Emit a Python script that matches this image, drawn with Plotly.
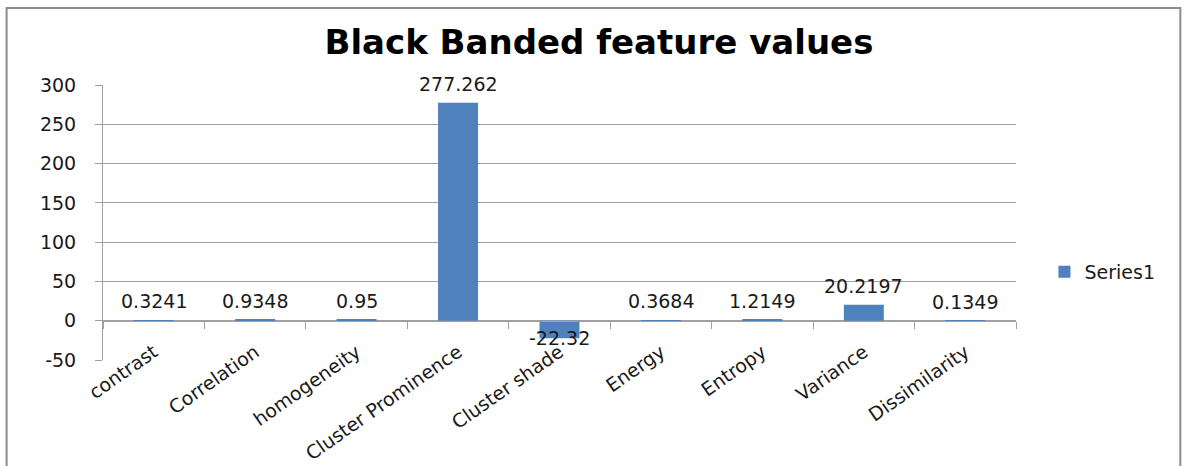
import plotly.graph_objects as go

categories = ["contrast", "Correlation", "homogeneity", "Cluster Prominence",
              "Cluster shade", "Energy", "Entropy", "Variance", "Dissimilarity"]
values = [0.3241, 0.9348, 0.95, 277.262, -22.32, 0.3684, 1.2149, 20.2197, 0.1349]
labels = ["0.3241", "0.9348", "0.95", "277.262", "-22.32", "0.3684", "1.2149", "20.2197", "0.1349"]
series_name = "Series1"
y_ticks = [-50, 0, 50, 100, 150, 200, 250, 300]
y_tick_text = ["-50", "0", "50", "100", "150", "200", "250", "300"]

W, H = 1184, 466
L, R, T, B = 102.5, 167.5, 85, 106
PW, PH = W - L - R, H - T - B
FONT = "DejaVu Sans"
TXT = "#1a1a1a"

def px_x(px):
    return (px - L) / PW

def px_y(py):
    return (H - B - py) / PH

ymin, ymax = -50, 300

fig = go.Figure()
fig.add_trace(go.Bar(x=categories, y=values, name=series_name,
                     marker=dict(color="#4F81BD", line=dict(width=0))))

for c, v, t in zip(categories, values, labels):
    fig.add_annotation(x=c, y=v, text=t, showarrow=False,
                       yshift=19 if v >= 0 else 0,
                       font=dict(family=FONT, size=19, color=TXT))

fig.update_layout(
    width=W, height=H,
    margin=dict(l=L, r=R, t=T, b=B, autoexpand=False),
    paper_bgcolor="white", plot_bgcolor="white",
    bargap=0.606,
    title=dict(text="<b>Black Banded feature values</b>", x=px_x(599), xref="paper",
               xanchor="center", y=1 - 42 / H, yanchor="middle",
               font=dict(family=FONT, size=34, color="black")),
    font=dict(family=FONT, size=19, color=TXT),
    showlegend=True,
    legend=dict(x=px_x(1045), xanchor="left", y=px_y(272), yanchor="middle",
                font=dict(family=FONT, size=19, color=TXT),
                bgcolor="rgba(0,0,0,0)", itemwidth=30),
    xaxis=dict(anchor="free", position=(0 - ymin) / (ymax - ymin), automargin=False,
               showline=True, linecolor="#A0A0A0", linewidth=1,
               ticks="outside", tickson="boundaries", ticklen=7, tickcolor="#A0A0A0",
               tickangle=-35, showgrid=False, ticklabelstandoff=12, ticklabelshift=0,
               tickfont=dict(family=FONT, size=19, color=TXT)),
    yaxis=dict(range=[ymin, ymax], tickvals=y_ticks, ticktext=y_tick_text, automargin=False,
               showline=True, linecolor="#A0A0A0",
               ticks="outside", ticklen=7, tickcolor="#A0A0A0", ticklabelstandoff=15,
               showgrid=True, gridcolor="#A0A0A0", gridwidth=1, zeroline=False,
               tickfont=dict(family=FONT, size=19, color=TXT)),
    shapes=[dict(type="rect", xref="paper", yref="paper",
                 x0=px_x(6), x1=px_x(1181), y0=px_y(480), y1=px_y(8),
                 line=dict(color="#8C8C8C", width=2), layer="below")],
)

fig.write_html("out.html")
